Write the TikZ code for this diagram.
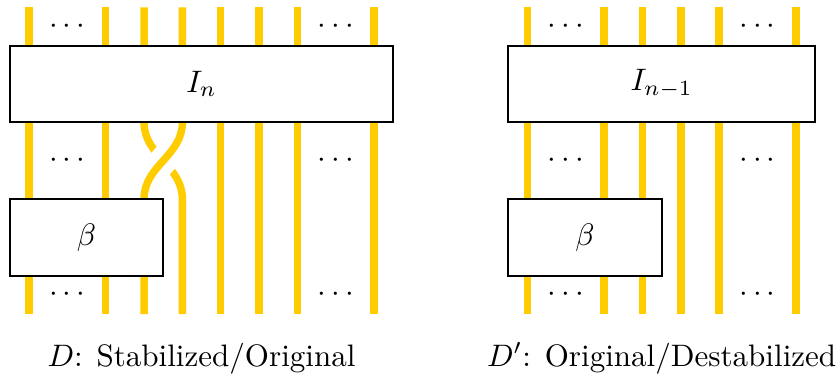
\documentclass[tikz,border=0pt]{standalone}
\usepackage{amsmath}
\usepackage{tikz}
\usepackage{xcolor}
\usetikzlibrary{positioning}
\definecolor{braidyellow}{RGB}{255,204,0}

\begin{document}
\begin{tikzpicture}[x=0.434cm, y=0.434cm,
        strand/.style={draw=braidyellow, line width=2.4pt},
        over/.style={preaction={draw=white, line width=9pt}},
        box/.style={rectangle, draw=black, fill=white, semithick, minimum height=0.868cm, inner sep=0pt},
        dots/.style={inner sep=0pt},
        capt/.style={anchor=base, inner sep=0pt}
    ]
    \useasboundingbox (-0.756,-1.771) rectangle (21.15,8.19);

    % Left diagram: straight strands
    \foreach \x in {0,2,5,6,7,9}
        \draw[strand] (\x,8) -- (\x,0);
    % Crossing of strands 3 and 4 (under first, then over with white halo)
    \draw[strand] (3,8) -- (3,5) to[out=-90, in=90] (4,3) -- (4,0);
    \draw[strand, over] (4,8) -- (4,5) to[out=-90, in=90] (3,3) -- (3,0);

    % Right diagram: all strands straight
    \foreach \x in {13,15,16,17,18,20}
        \draw[strand] (\x,8) -- (\x,0);

    % Boxes drawn on top of the strands
    \node (In)    [box, minimum width=4.34cm]  at (4.5,6)  {$I_n$};
    \node (betaL) [box, minimum width=1.736cm] at (1.5,2)  {$\beta$};
    \node (Inm)   [box, minimum width=3.472cm] at (16.5,6) {$I_{n-1}$};
    \node (betaR) [box, minimum width=1.736cm] at (14.5,2) {$\beta$};

    % Dots between the strands
    \foreach \x/\y [count=\i] in {1/7.5, 8/7.5, 1/4, 8/4, 1/0.5, 8/0.5, 14/7.5, 19/7.5, 14/4, 19/4, 14/0.5, 19/0.5}
        \node (dots\i) [dots] at (\x,\y) {${\cdot}\,{\cdot}\,{\cdot}$};

    % Captions
    \node (captL) [capt] at (4.5,-1.36)  {$D$: Stabilized/Original};
    \node (captR) [capt] at (16.5,-1.36) {$D'$: Original/Destabilized};

\end{tikzpicture}
\end{document}
